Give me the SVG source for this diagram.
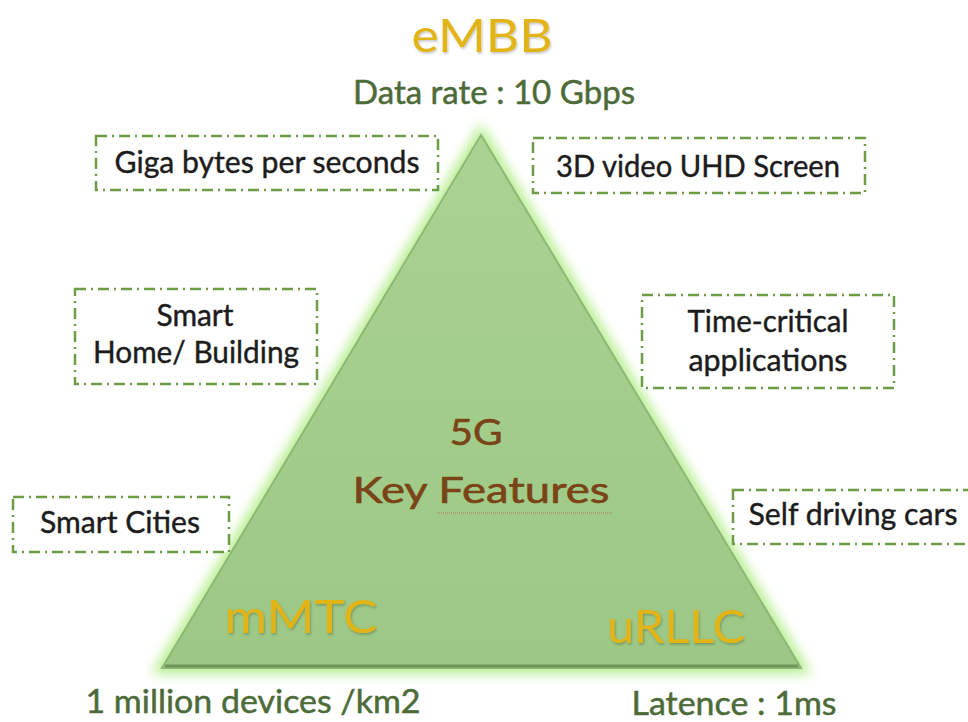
<svg xmlns="http://www.w3.org/2000/svg" width="968" height="722" viewBox="0 0 968 722">
<defs>
<filter id="glow" x="-10%" y="-10%" width="120%" height="120%">
<feGaussianBlur stdDeviation="6"/>
</filter>
<filter id="ts" x="-5%" y="-5%" width="110%" height="120%">
<feDropShadow dx="1" dy="1.5" stdDeviation="1" flood-color="#000" flood-opacity="0.25"/>
</filter>
<linearGradient id="tri" x1="0" y1="0" x2="0" y2="1">
<stop offset="0" stop-color="#aad392"/>
<stop offset="1" stop-color="#9cc784"/>
</linearGradient>
</defs>
<style>
.box{fill:#fff;stroke:#6c9c46;stroke-width:2.5;stroke-dasharray:11 5 2 5}
.t{font-family:Lato,"Open Sans","Liberation Sans",sans-serif;fill:#1c1c1c;stroke:#1c1c1c;stroke-width:0.4;font-size:30px}
.g{font-family:Lato,"Open Sans","Liberation Sans",sans-serif;fill:#4d6b38;stroke:#4d6b38;stroke-width:0.5;font-size:33px}
.y{font-family:Lato,"Open Sans","Liberation Sans",sans-serif;fill:#e2b418;font-size:47px}
.b{font-family:Lato,"Open Sans","Liberation Sans",sans-serif;fill:#7a4418;stroke:#7a4418;stroke-width:0.6;font-size:37px}
</style>
<rect width="968" height="722" fill="#fff"/>
<g id="triangle">
<polygon points="481,135 162,668 801,668" fill="#b8ee90" stroke="#b8ee90" stroke-width="12" filter="url(#glow)"/>
<polygon points="481,135 162,668 801,668" fill="url(#tri)" stroke="#8fb877" stroke-width="2"/>
<line x1="165" y1="666" x2="798" y2="666" stroke="#6f9658" stroke-width="3"/>
</g>
<g id="title">
<text class="y" x="482" y="52" text-anchor="middle" textLength="141" lengthAdjust="spacingAndGlyphs" filter="url(#ts)">eMBB</text>
<text class="g" x="494" y="104" text-anchor="middle" textLength="282" lengthAdjust="spacingAndGlyphs">Data rate : 10 Gbps</text>
</g>
<g id="center">
<text class="b" x="476" y="445" text-anchor="middle" textLength="53" lengthAdjust="spacingAndGlyphs">5G</text>
<text class="b" x="481" y="503" text-anchor="middle" textLength="257" lengthAdjust="spacingAndGlyphs">Key Features</text>
<line x1="437" y1="513" x2="612" y2="513" stroke="#b87060" stroke-width="1" stroke-dasharray="1 1"/>
</g>
<g id="mmtc">
<text class="y" x="301" y="633" text-anchor="middle" textLength="153" lengthAdjust="spacingAndGlyphs" filter="url(#ts)">mMTC</text>
<text class="g" x="253" y="713" text-anchor="middle" textLength="335" lengthAdjust="spacingAndGlyphs">1 million devices /km2</text>
</g>
<g id="urllc">
<text class="y" x="676" y="643" text-anchor="middle" textLength="138" lengthAdjust="spacingAndGlyphs" filter="url(#ts)">uRLLC</text>
<text class="g" x="734" y="715" text-anchor="middle" textLength="205" lengthAdjust="spacingAndGlyphs">Latence : 1ms</text>
</g>
<g id="giga">
<rect class="box" x="96" y="136" width="342" height="54"/>
<text class="t" x="267" y="173" text-anchor="middle" textLength="305" lengthAdjust="spacingAndGlyphs">Giga bytes per seconds</text>
</g>
<g id="video">
<rect class="box" x="533" y="138" width="332" height="55"/>
<text class="t" x="698" y="177" text-anchor="middle" textLength="284" lengthAdjust="spacingAndGlyphs">3D video UHD Screen</text>
</g>
<g id="home">
<rect class="box" x="75" y="289" width="242" height="95"/>
<text class="t" x="195" y="326" text-anchor="middle" textLength="77" lengthAdjust="spacingAndGlyphs">Smart</text>
<text class="t" x="196" y="363" text-anchor="middle" textLength="206" lengthAdjust="spacingAndGlyphs">Home/ Building</text>
</g>
<g id="time">
<rect class="box" x="642" y="295" width="252" height="93"/>
<text class="t" x="768" y="332" text-anchor="middle" textLength="161" lengthAdjust="spacingAndGlyphs">Time-critical</text>
<text class="t" x="768" y="371" text-anchor="middle" textLength="159" lengthAdjust="spacingAndGlyphs">applications</text>
</g>
<g id="cities">
<rect class="box" x="13" y="497" width="216" height="55"/>
<text class="t" x="120" y="533" text-anchor="middle" textLength="160" lengthAdjust="spacingAndGlyphs">Smart Cities</text>
</g>
<g id="cars">
<rect class="box" x="733" y="490" width="250" height="54"/>
<text class="t" x="853" y="525" text-anchor="middle" textLength="209" lengthAdjust="spacingAndGlyphs">Self driving cars</text>
</g>
</svg>
